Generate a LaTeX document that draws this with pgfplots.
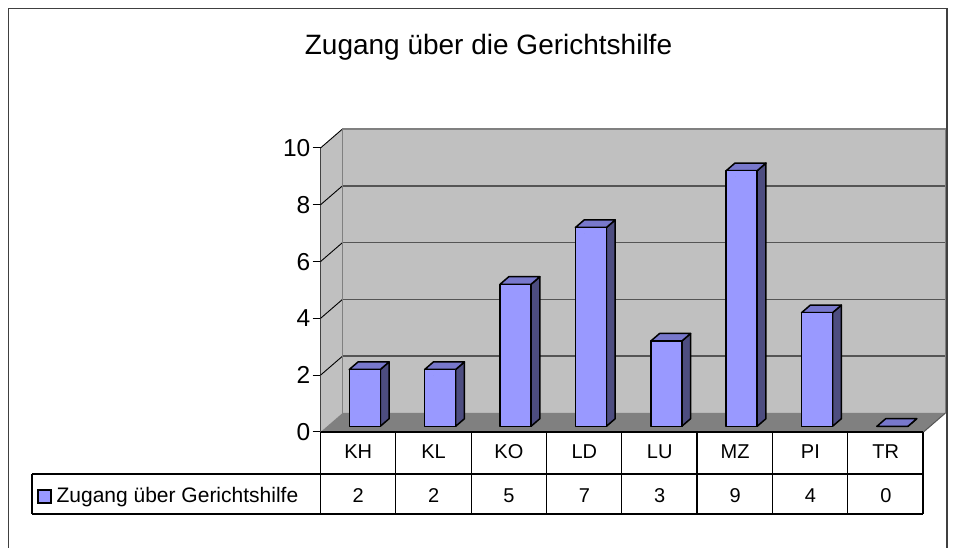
\documentclass[border=0pt]{standalone}
\usepackage{pgfplots}
\pgfplotsset{compat=1.18}
\usepackage{pgfplotstable}
\usepackage{fontspec}
\setmainfont{Liberation Sans}
\definecolor{barfront}{HTML}{9999FF}
\definecolor{bartop}{HTML}{7878CC}
\definecolor{barside}{HTML}{4D4D80}
\definecolor{wallc}{HTML}{C0C0C0}
\definecolor{floorc}{HTML}{808080}
\definecolor{gridc}{HTML}{555555}

\pgfplotstableread{
x v
0.5 2
1.5 2
2.5 5
3.5 7
4.5 3
5.5 9
6.5 4
7.5 0
}\data

\begin{document}
\begin{tikzpicture}
\begin{scope}[x=1pt,y=1pt]
\path[use as bounding box] (0,0) rectangle (954,548);
\draw[line width=1.8pt, black!75] (8.5,-10) rectangle (947,539.5);
\node[anchor=base, font=\fontsize{28}{28}\selectfont, inner sep=0pt] at (488.5,493) {Zugang über die Gerichtshilfe};
\end{scope}
\begin{axis}[
  at={(320.5pt,116pt)}, anchor=south west,
  x=75.375pt, y=28.4pt,
  xmin=0, xmax=8, ymin=0, ymax=10,
  clip=false,
  axis x line*=bottom, axis y line*=left,
  x axis line style={draw=none},
  y axis line style={line width=1.2pt, black},
  xtick={0.5,1.5,2.5,3.5,4.5,5.5,6.5,7.5},
  xticklabels={KH,KL,KO,LD,LU,MZ,PI,TR},
  major x tick style={draw=none},
  ytick={0,2,4,6,8,10},
  major y tick style={line width=1pt, black},
  tick align=outside, major tick length=8pt,
  /pgf/number format/assume math mode=true,
  yticklabel style={font=\fontsize{24.5}{24.5}\selectfont, inner xsep=2pt},
  xticklabel style={font=\fontsize{20}{20}\selectfont, anchor=base, yshift=-19pt},
]
% side wall
\fill[wallc] (axis cs:0,0) -- (axis cs:0,10) -- (axis cs:0.2919,10.669) -- (axis cs:0.2919,0.669) -- cycle;
% back wall
\fill[wallc] (axis cs:0.2919,0.669) rectangle (axis cs:8.2919,10.669);
% floor
\fill[floorc] (axis cs:0,0) -- (axis cs:8,0) -- (axis cs:8.2919,0.669) -- (axis cs:0.2919,0.669) -- cycle;
% grid lines
\foreach \g in {2,4,6,8} {
  \edef\tmp{\noexpand\draw[gridc, line width=1.5pt] (axis cs:0.2919,\g.669) -- (axis cs:8.2919,\g.669);
  \noexpand\draw[black, line width=0.9pt] (axis cs:0,\g) -- (axis cs:0.2919,\g.669);}
  \tmp
}
\draw[black, line width=0.9pt] (axis cs:0,10) -- (axis cs:0.2919,10.669);
\draw[floorc, line width=1.5pt] (axis cs:0.2919,0.669) -- (axis cs:0.2919,10.669) -- (axis cs:8.2919,10.669) -- (axis cs:8.2919,0.669);
\draw[gridc, line width=1pt] (axis cs:8,0) -- (axis cs:8.2919,0.669);
% bars
\addplot[scatter, only marks, mark=*, mark size=0pt, mark options={draw=none, fill=none},
  visualization depends on={rawy \as \val},
  scatter/@pre marker code/.code={
    \pgfmathsetmacro\h{\val*28.4}
    \filldraw[barside, draw=black, line width=1.5pt, line join=round]
      (22.1pt,{(5.7-\h)*1pt}) -- (30.9pt,{(13.3-\h)*1pt}) -- (30.9pt,13.3pt) -- (22.1pt,5.7pt) -- cycle;
    \filldraw[bartop, draw=black, line width=1.5pt, line join=round]
      (-8.9pt,5.7pt) -- (22.1pt,5.7pt) -- (30.9pt,13.3pt) -- (-0.1pt,13.3pt) -- cycle;
    \filldraw[barfront, draw=black, line width=1.5pt, line join=round]
      (-8.9pt,{(5.7-\h)*1pt}) rectangle (22.1pt,5.7pt);
  },
  scatter/@post marker code/.code={},
] table[x=x, y=v] {\data};
% value row of the data table
\addplot[draw=none, mark=none, nodes near coords, point meta=explicit,
  every node near coord/.append style={font=\fontsize{20}{20}\selectfont, anchor=base, black, inner sep=0pt}]
  table[x=x, y expr=-2.5, meta=v] {\data};
\end{axis}
\begin{scope}[x=1pt,y=1pt, line width=1.2pt]
\draw (320.5,116) -- (923,116);
\draw (32,74) -- (923,74);
\draw (32,34) -- (923,34);
\draw (32,74) -- (32,34);
\foreach \i in {0,...,8} { \draw ({320.5+75.3125*\i},116) -- ({320.5+75.3125*\i},34); }
\filldraw[fill=barfront, draw=black, line width=1.3pt] (38,45) rectangle (51,58);
\node[anchor=base west, font=\fontsize{21}{21}\selectfont, inner sep=0pt] at (56,45) {Zugang über Gerichtshilfe};
\end{scope}
\end{tikzpicture}
\end{document}
